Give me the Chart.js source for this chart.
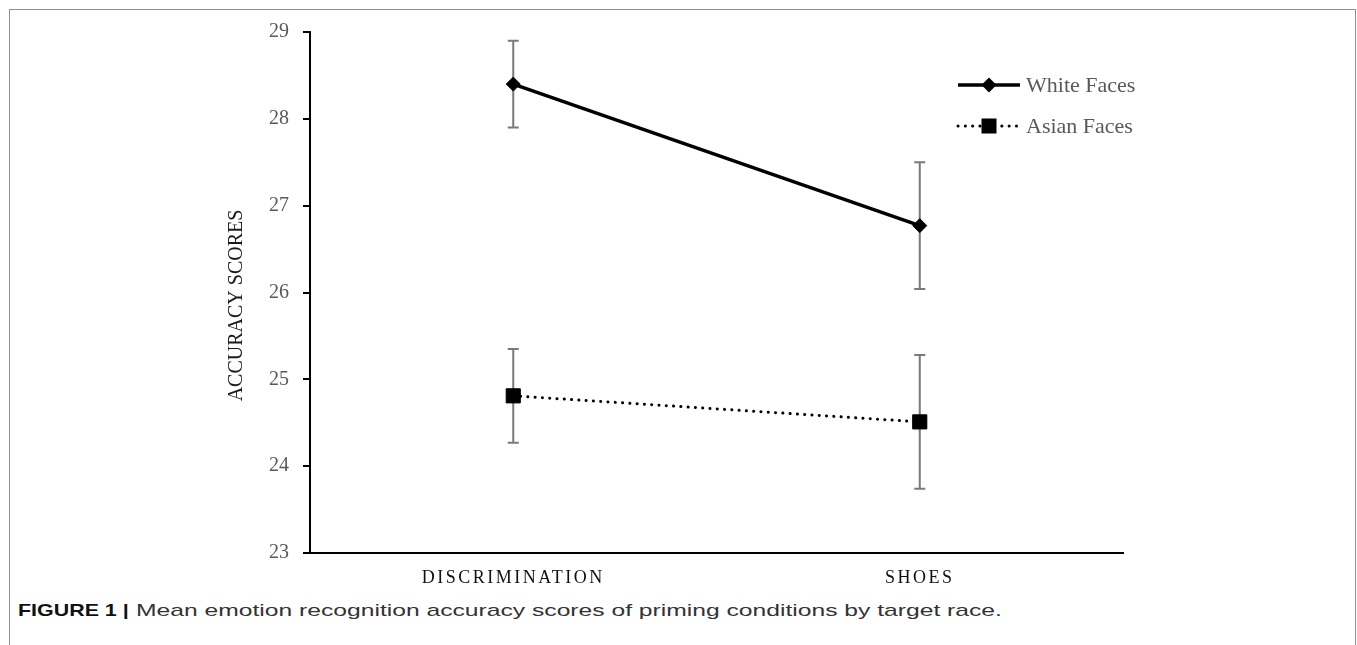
<!DOCTYPE html>
<html>
<head>
<meta charset="utf-8">
<script src="https://cdn.jsdelivr.net/npm/chart.js@4.4.0/dist/chart.umd.min.js"></script>
<style>
  html, body { margin: 0; padding: 0; background: #fff; overflow: hidden; }
  body { width: 1357px; height: 645px; position: relative; }
  #frame { position: absolute; left: 9px; top: 9px; width: 1345px; height: 700px; border: 1px solid #909090; border-bottom: none; }
  #chart { position: absolute; left: 0; top: 0; }
  .cap { position: absolute; top: 601px; font-family: "Liberation Sans", Arial, sans-serif; font-size: 17px; white-space: nowrap; transform-origin: 0 50%; }
  #capHead { left: 18px; color: #111; font-weight: bold; transform: scaleX(1.26); }
  #capText { left: 136px; color: #333; transform: scaleX(1.45); }
</style>
</head>
<body>
<div id="frame"></div>
<canvas id="chart" width="1357" height="600"></canvas>
<div class="cap" id="capHead">FIGURE 1 |</div>
<div class="cap" id="capText">Mean emotion recognition accuracy scores of priming conditions by target race.</div>
<script>
// values
var categories = ['DISCRIMINATION', 'SHOES']
var whiteFaces = [28.40, 26.77]
var whiteErrors = [0.50, 0.73]
var asianFaces = [24.81, 24.51]
var asianErrors = [0.54, 0.77]
var yTicks = [23, 24, 25, 26, 27, 28, 29]
var yTitle = 'ACCURACY SCORES'

var serif = '"Liberation Serif", "Times New Roman", serif'

// grey error bars under the lines
const errorBars = {
    id: 'errorBars',
    beforeDatasetsDraw(chart) {
        const ctx = chart.ctx
        const xs = chart.scales.x
        const ys = chart.scales.y
        ctx.save()
        ctx.strokeStyle = '#7a7a7a'
        ctx.lineWidth = 2
        chart.data.datasets.forEach((ds) => {
            ds.errors.forEach((err, i) => {
                const px = xs.getPixelForValue(i)
                const top = ys.getPixelForValue(ds.data[i] + err)
                const bot = ys.getPixelForValue(ds.data[i] - err)
                ctx.beginPath()
                ctx.moveTo(px, top); ctx.lineTo(px, bot)
                ctx.moveTo(px - 5.5, top); ctx.lineTo(px + 5.5, top)
                ctx.moveTo(px - 5.5, bot); ctx.lineTo(px + 5.5, bot)
                ctx.stroke()
            })
        })
        ctx.restore()
    }
}

// letter spaced category labels
const spacedLabels = {
    id: 'spacedLabels',
    beforeDraw(chart) {
        const sc = chart.scales.x
        if (sc._spaced) return
        const orig = sc.drawLabels
        sc.drawLabels = function (area) {
            chart.ctx.save()
            chart.ctx.letterSpacing = '2.5px'
            orig.call(this, area)
            chart.ctx.restore()
        }
        sc._spaced = true
    }
}

// rotated y title, sitting a little below the axis middle like the original
const sideTitle = {
    id: 'sideTitle',
    afterDraw(chart) {
        const ctx = chart.ctx
        const ys = chart.scales.y
        ctx.save()
        ctx.translate(ys.left + 37, (ys.top + ys.bottom) / 2 + 13)
        ctx.rotate(-Math.PI / 2)
        ctx.fillStyle = '#1a1a1a'
        ctx.font = '20px ' + serif
        ctx.textAlign = 'center'
        ctx.textBaseline = 'middle'
        ctx.fillText(yTitle, 0, 0)
        ctx.restore()
    }
}

function marker(ctx, style, x, y) {
    ctx.beginPath()
    if (style === 'rectRot') {
        ctx.moveTo(x, y - 7.5); ctx.lineTo(x + 7.5, y); ctx.lineTo(x, y + 7.5); ctx.lineTo(x - 7.5, y)
    } else {
        ctx.rect(x - 7.5, y - 7.5, 15, 15)
    }
    ctx.closePath()
    ctx.fill()
}

// legend: line sample with marker, then label
const lineLegend = {
    id: 'lineLegend',
    afterDraw(chart) {
        const ctx = chart.ctx
        const x0 = 958, x1 = 1020
        ctx.save()
        chart.data.datasets.forEach((ds, i) => {
            const y = 85 + i * 41
            ctx.strokeStyle = '#000'
            ctx.lineWidth = ds.borderWidth
            ctx.lineCap = ds.borderCapStyle || 'butt'
            ctx.setLineDash(ds.borderDash || [])
            ctx.beginPath()
            ctx.moveTo(x0, y); ctx.lineTo(x1, y)
            ctx.stroke()
            ctx.setLineDash([])
            ctx.fillStyle = '#000'
            marker(ctx, ds.pointStyle, (x0 + x1) / 2, y)
            ctx.fillStyle = '#595959'
            ctx.font = '22px ' + serif
            ctx.textBaseline = 'middle'
            ctx.fillText(ds.label, 1026, y + 1)
        })
        ctx.restore()
    }
}

const ctx = document.getElementById('chart')

const myChart = new Chart(ctx, {
    type: 'line',
    data: {
        labels: categories,
        datasets: [
            {
                label: 'White Faces',
                data: whiteFaces,
                errors: whiteErrors,
                borderColor: '#000',
                backgroundColor: '#000',
                borderWidth: 3.5,
                pointStyle: 'rectRot',
                pointRadius: 7,
                pointBorderWidth: 1,
                tension: 0,
            },
            {
                label: 'Asian Faces',
                data: asianFaces,
                errors: asianErrors,
                borderColor: '#000',
                backgroundColor: '#000',
                borderWidth: 3,
                borderDash: [0.1, 7.2],
                borderCapStyle: 'round',
                pointStyle: 'rect',
                pointRadius: 10,
                pointBorderWidth: 1,
                tension: 0,
            },
        ],
    },
    options: {
        responsive: false,
        animation: false,
        layout: {
            padding: { left: 200, right: 234, top: 32, bottom: 6 },
        },
        scales: {
            x: {
                offset: true,
                grid: { display: false, drawTicks: false },
                border: { color: '#000', width: 2 },
                ticks: {
                    color: '#111',
                    padding: 14,
                    font: { family: serif, size: 18 },
                    maxRotation: 0,
                },
                afterFit: function (s) { s.height = 41 },
            },
            y: {
                min: yTicks[0],
                max: yTicks[yTicks.length - 1],
                grid: { drawOnChartArea: false, drawTicks: true, tickLength: 7, color: '#000', lineWidth: 2 },
                border: { color: '#000', width: 2 },
                ticks: {
                    stepSize: 1,
                    color: '#595959',
                    padding: 14,
                    font: { family: serif, size: 20 },
                },
                afterFit: function (s) { s.width = 110 },
            },
        },
        plugins: {
            legend: { display: false },
            tooltip: { enabled: false },
        },
    },
    plugins: [errorBars, spacedLabels, sideTitle, lineLegend],
})
</script>
</body>
</html>
